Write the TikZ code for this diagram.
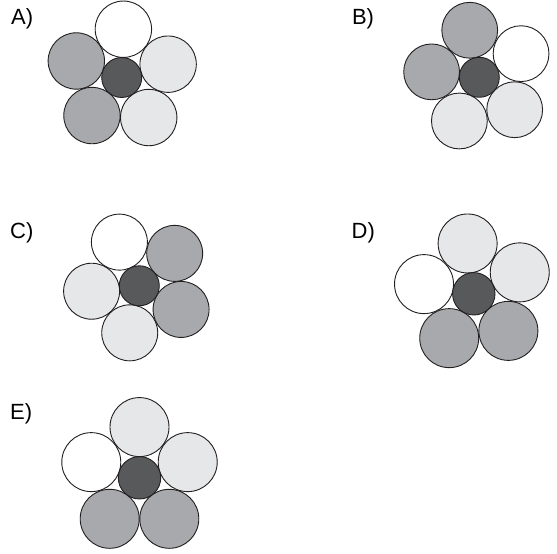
\documentclass[tikz,border=0pt]{standalone}
\usepackage{fontspec}
\setmainfont{Liberation Sans}
\usetikzlibrary{calc}
\definecolor{ring}{HTML}{231F20}
\definecolor{cdark}{HTML}{58595B}
\definecolor{cmid}{HTML}{A7A9AC}
\definecolor{clight}{HTML}{E6E7E8}
\tikzset{
  petal/.style={circle, draw=ring, line width=0.9pt, inner sep=0pt, outer sep=0pt, minimum size=#1},
  lab/.style={font=\fontsize{22}{26}\selectfont, inner sep=0pt, anchor=base west, text=black}
}
\newcommand\drawflower[8]{%
  \coordinate (#1) at (#2,{554-#3});
  \foreach \col [count=\i from 0] in {#8} {
    \node[petal={2*#5pt}, fill=\col] (#1\i) at ($(#1)+({#7+72*\i}:#6)$) {};
  }
  \node[petal={2*#4pt}, fill=cdark] (#1c) at (#1) {};
}
\begin{document}
\begin{tikzpicture}[x=1pt,y=1pt]
\useasboundingbox (0,0) rectangle (557,554);
\fill[white] (0,0) rectangle (557,554);
% labels
\node[lab] (la) at (11,529.7) {A)};
\node[lab] (lb) at (351.8,529.7) {B)};
\node[lab] (lc) at (10,315) {C)};
\node[lab] (ld) at (351.5,315) {D)};
\node[lab] (le) at (10,134.7) {E)};
% flowers
\drawflower{fa}{121.7}{77.5}{20}{28.2}{48.3}{16}{clight,white,cmid,cmid,clight}
\drawflower{fb}{479.3}{77.3}{20}{27.9}{48}{29.5}{white,cmid,cmid,clight,clight}
\drawflower{fc}{139.3}{285.8}{20}{28}{48}{42.5}{cmid,white,clight,clight,cmid}
\drawflower{fd}{473.8}{293.8}{21.2}{29.5}{50.7}{25}{clight,clight,white,cmid,cmid}
\drawflower{fe}{139.5}{477.8}{21.2}{29.5}{50.7}{18}{clight,clight,white,cmid,cmid}
\end{tikzpicture}
\end{document}
